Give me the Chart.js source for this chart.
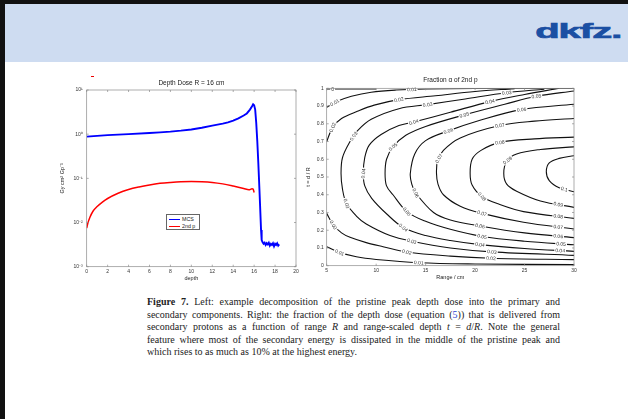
<!DOCTYPE html>
<html lang="en">
<head>
<meta charset="UTF-8" />
<title>Figure 7 - depth dose and fraction of 2nd p</title>
<script src="https://cdn.jsdelivr.net/npm/chart.js"></script>
<style>
  body { margin: 0; width: 628px; height: 419px; position: relative; overflow: hidden; background: #fff; }
  .bar-top { position: absolute; left: 0; top: 0; width: 628px; height: 4px; background: #111; }
  .bar-left { position: absolute; left: 0; top: 0; width: 5px; height: 419px; background: #111; }
  .header { position: absolute; left: 5px; top: 4px; width: 623px; height: 58px; background: #cedcf1; }
  .logo { position: absolute; right: 7px; top: 19px; font: bold 21px 'Liberation Sans', Arial, sans-serif;
          color: #1b4fa3; transform: scaleX(1.9); transform-origin: right center; letter-spacing: -0.5px;
          -webkit-text-stroke: 0.7px #1b4fa3; }
  .red-dash { position: absolute; left: 91px; top: 76px; width: 3px; height: 1px; background: #e00; }
  canvas { position: absolute; }
  #left { left: 59px; top: 72px; }
  #right { left: 305px; top: 70px; }
  .legend { position: absolute; left: 166px; top: 214px; width: 32px; height: 14px; border: 0.7px solid #666;
            background: #fff; font: 5.3px 'Liberation Sans', Arial, sans-serif; color: #222; }
  .legend div { height: 6px; line-height: 6px; margin-top: 1px; white-space: nowrap; }
  .legend span { display: inline-block; width: 11px; height: 1.4px; vertical-align: middle; margin: 0 2px 0 2px; }
  #caption { position: absolute; left: 147px; top: 296px; width: 413px; font-family: 'Liberation Serif', 'Times New Roman', serif;
             font-size: 10px; line-height: 12.6px; color: #222; }
  #caption .ln { white-space: nowrap; }
  #caption .ln span.t { display: inline-block; }
</style>
</head>
<body>
<div class="header"></div>
<div class="bar-top"></div>
<div class="bar-left"></div>
<div class="logo">dkfz.</div>
<div class="red-dash"></div>

<canvas id="left" width="243" height="216"></canvas>
<canvas id="right" width="285" height="218"></canvas>

<div class="legend">
  <div><span style="background:#0000ff"></span>MCS</div>
  <div><span style="background:#ff0000"></span>2nd p</div>
</div>

<div id="caption">
  <div class="ln fit"><span class="t"><b>Figure 7.</b> Left: example decomposition of the pristine peak depth dose into the primary and</span></div>
  <div class="ln fit"><span class="t">secondary components. Right: the fraction of the depth dose (equation (<span style="color:#2b3fd0">5</span>)) that is delivered from</span></div>
  <div class="ln fit"><span class="t">secondary protons as a function of range <i>R</i> and range-scaled depth <i>t</i> = <i>d</i>/<i>R</i>. Note the general</span></div>
  <div class="ln fit"><span class="t">feature where most of the secondary energy is dissipated in the middle of the pristine peak and</span></div>
  <div class="ln"><span class="t">which rises to as much as 10% at the highest energy.</span></div>
</div>

<script>
// ---- left panel: depth dose, R = 16 cm ----
const depthMCS = [0, 2, 4, 6, 7, 8, 9, 10, 11, 12, 13, 13.5, 14, 14.5, 15, 15.3, 15.6, 15.8, 15.9, 16.0, 16.1, 16.2, 16.3, 16.4,
                  16.5, 16.56, 16.66, 16.72, 16.8, 16.9, 17.0, 17.1, 17.2, 17.3, 17.4, 17.5, 17.6, 17.7, 17.8, 17.9, 18.0,
                  18.1, 18.2, 18.3, 18.4];
const doseMCS = [0.88, 0.95, 1.0, 1.06, 1.1, 1.14, 1.2, 1.28, 1.4, 1.56, 1.73, 1.85, 2.03, 2.28, 2.65, 2.95, 3.6, 4.3, 4.75, 4.5,
                 3.6, 1.8, 0.7, 0.22, 0.06, 0.027, 0.0068, 0.004, 0.0036, 0.0033, 0.0035, 0.0031, 0.0034, 0.0032, 0.0035,
                 0.0030, 0.0033, 0.0031, 0.0034, 0.0029, 0.0033, 0.0031, 0.0034, 0.0030, 0.0032];
const depth2nd = [0, 0.1, 0.3, 0.6, 1, 1.5, 2, 3, 4, 5, 6, 7, 8, 9, 10, 11, 12, 13, 14, 15, 15.5, 15.8, 15.9, 16.0];
const dose2nd = [0.0075, 0.0095, 0.013, 0.018, 0.023, 0.029, 0.035, 0.046, 0.056, 0.064, 0.071, 0.077, 0.081, 0.084, 0.085,
                 0.084, 0.081, 0.075, 0.067, 0.059, 0.055, 0.058, 0.057, 0.048];
const doseTicks = [1e-3, 1e-2, 1e-1, 1, 10];
const doseTickLabels = ['10\u207B\u00B3', '10\u207B\u00B2', '10\u207B\u00B9', '10\u2070', '10\u00B9'];

// ---- right panel: fraction alpha of 2nd p, contour lines as [R, t] ----
const a000 = [[5, 0.996], [10, 0.996]];
const a001Up = [[5, 0.893], [6, 0.925], [7.5, 0.955], [9.5, 0.978], [12, 0.99], [15, 0.996], [20, 0.999], [30, 0.999]];
const a001Lo = [[5, 0.107], [6.3, 0.075], [8, 0.05], [10, 0.035], [14.3, 0.017], [20, 0.01], [30, 0.006]];
const a002Up = [[5, 0.70], [5.6, 0.78], [6.5, 0.83], [8.1, 0.87], [9.8, 0.905], [12.3, 0.936], [16, 0.958], [20, 0.982], [24, 0.998]];
const a002Lo = [[5, 0.295], [5.67, 0.23], [6.5, 0.185], [7.36, 0.16], [9, 0.13], [10.7, 0.107], [13.1, 0.077], [17.5, 0.054],
                [21.6, 0.042], [30, 0.034]];
const a003 = [[27, 0.995], [23.2, 0.975], [19, 0.94], [15.2, 0.908], [12.3, 0.885], [9.5, 0.825], [8.1, 0.76], [7.36, 0.70],
              [6.6, 0.61], [6.45, 0.52], [6.6, 0.43], [7.0, 0.35], [8, 0.28], [9.0, 0.235], [11.4, 0.17], [13.6, 0.138],
              [17.5, 0.1], [21.7, 0.078], [30, 0.058]];
const a004 = [[28.5, 1.0], [25, 0.965], [21.5, 0.925], [17.5, 0.865], [13.8, 0.81], [12.3, 0.79], [10.5, 0.74], [9.3, 0.68],
              [8.85, 0.61], [8.7, 0.52], [8.85, 0.45], [9.55, 0.38], [11.1, 0.29], [12.75, 0.215], [15, 0.17], [17.5, 0.142],
              [20.5, 0.119], [25, 0.097], [30, 0.081]];
const a005 = [[30, 0.985], [26.2, 0.955], [23, 0.91], [18.9, 0.85], [15, 0.785], [13, 0.735], [11.7, 0.67], [11.05, 0.6],
              [10.9, 0.52], [11.05, 0.45], [11.7, 0.40], [13.1, 0.305], [15, 0.25], [17.5, 0.205], [20.7, 0.165], [25, 0.138],
              [30, 0.118]];
const a006 = [[30, 0.91], [24.7, 0.88], [20.5, 0.82], [17.3, 0.76], [15, 0.705], [13.9, 0.63], [13.45, 0.52], [13.6, 0.46],
              [14.0, 0.41], [15.8, 0.30], [17.5, 0.258], [20.5, 0.224], [25, 0.185], [30, 0.158]];
const a007 = [[30, 0.83], [26, 0.815], [22.5, 0.79], [18.5, 0.72], [16.8, 0.65], [16.2, 0.59], [16.1, 0.52], [16.25, 0.46],
              [16.8, 0.40], [18.5, 0.335], [20.7, 0.295], [24.9, 0.245], [30, 0.207]];
const a008 = [[30, 0.725], [26, 0.715], [22.5, 0.695], [20.6, 0.65], [19.7, 0.6], [19.5, 0.52], [19.7, 0.455], [20.7, 0.39],
              [22.5, 0.345], [24.9, 0.305], [30, 0.267]];
const a009 = [[30, 0.67], [26.6, 0.655], [24.2, 0.63], [23.2, 0.59], [22.9, 0.52], [23.2, 0.46], [24.2, 0.42], [26.6, 0.365],
              [30, 0.329]];
const a010 = [[30, 0.62], [28.5, 0.605], [27.5, 0.58], [27.2, 0.53], [27.5, 0.48], [28.5, 0.44], [30, 0.417]];
const contours = [a000, a001Up, a001Lo, a002Up, a002Lo, a003, a004, a005, a006, a007, a008, a009, a010];

// inline contour labels
const labelText = ['0', '0.01', '0.01', '0.02', '0.02', '0.03', '0.03', '0.03', '0.04', '0.04', '0.04', '0.05', '0.05', '0.05',
                   '0.06', '0.06', '0.07', '0.07', '0.08', '0.09',
                   '0.01', '0.01', '0.02', '0.02', '0.02', '0.03', '0.03', '0.03', '0.04', '0.04', '0.04', '0.05', '0.05',
                   '0.05', '0.06', '0.06', '0.06', '0.07', '0.07', '0.08', '0.08', '0.09', '0.1'];
const labelR = [5.6, 5.9, 13.6, 5.6, 12.3, 7.7, 15.2, 23.2, 8.7, 13.8, 21.5, 11.7, 18.9, 26.2, 17.3, 24.7, 16.5, 22.5, 22.5, 23.2,
                6.3, 14.3, 5.67, 13.1, 21.6, 7.0, 13.6, 21.7, 12.75, 20.5, 28.6, 13.1, 20.7, 28.7, 14.0, 20.5, 28.4, 20.7,
                28.4, 20.7, 28.4, 28.4, 29.0];
const labelT = [0.996, 0.91, 0.994, 0.78, 0.936, 0.73, 0.908, 0.975, 0.52, 0.81, 0.925, 0.67, 0.85, 0.955, 0.76, 0.88, 0.6,
                0.79, 0.695, 0.6,
                0.075, 0.017, 0.23, 0.077, 0.042, 0.35, 0.138, 0.078, 0.215, 0.119, 0.086, 0.305, 0.165, 0.123, 0.41, 0.224,
                0.164, 0.295, 0.216, 0.39, 0.275, 0.34, 0.426];
const rangeTicks = [5, 10, 15, 20, 25, 30];
const tTicks = [0, 0.1, 0.2, 0.3, 0.4, 0.5, 0.6, 0.7, 0.8, 0.9, 1];

const FONT = "'Liberation Sans', Arial, sans-serif";
const tickFont = { family: FONT, size: 5 };
const txt = '#333';
const noGrid = { display: false, drawTicks: false, tickLength: 0 };

// box round the plot with small inward ticks, matlab style, plus the title over the plot area
const boxPlugin = {
  id: 'box',
  afterDraw(chart, args, opts) {
    const { ctx, chartArea: a, scales } = chart;
    ctx.save();
    ctx.strokeStyle = '#8a8a8a';
    ctx.lineWidth = 0.7;
    ctx.strokeRect(a.left, a.top, a.right - a.left, a.bottom - a.top);
    ctx.beginPath();
    scales.x.ticks.forEach(t => {
      const px = scales.x.getPixelForValue(t.value);
      ctx.moveTo(px, a.bottom); ctx.lineTo(px, a.bottom - 2);
      ctx.moveTo(px, a.top); ctx.lineTo(px, a.top + 2);
    });
    scales.y.ticks.forEach(t => {
      const py = scales.y.getPixelForValue(t.value);
      ctx.moveTo(a.left, py); ctx.lineTo(a.left + 2, py);
      ctx.moveTo(a.right, py); ctx.lineTo(a.right - 2, py);
    });
    ctx.stroke();
    ctx.fillStyle = '#222';
    ctx.font = '6.5px ' + FONT;
    ctx.textAlign = 'center';
    ctx.textBaseline = 'middle';
    ctx.fillText(opts.title, (a.left + a.right) / 2, a.top - opts.lift);
    ctx.restore();
  }
};

// left chart
new Chart(document.getElementById('left'), {
  type: 'line',
  data: {
    datasets: [
      { label: 'MCS', data: depthMCS.map((x, i) => ({ x, y: doseMCS[i] })), borderColor: '#0000ff', borderWidth: 1.9,
        pointRadius: 0, tension: 0 },
      { label: '2nd p', data: depth2nd.map((x, i) => ({ x, y: dose2nd[i] })), borderColor: '#ff0000', borderWidth: 1.5,
        pointRadius: 0, cubicInterpolationMode: 'monotone' }
    ]
  },
  options: {
    responsive: false, animation: false, devicePixelRatio: 1,
    layout: { padding: { left: 0, right: 6, top: 18, bottom: 6.3 } },
    plugins: {
      legend: { display: false }, tooltip: { enabled: false }, title: { display: false },
      box: { title: 'Depth Dose R = 16 cm', lift: 7 }
    },
    scales: {
      x: { type: 'linear', min: 0, max: 20,
           ticks: { stepSize: 2, font: tickFont, color: txt, padding: 2, maxRotation: 0 },
           grid: noGrid, border: { display: false },
           title: { display: true, text: 'depth', color: '#222', font: { family: FONT, size: 5.5 }, padding: 0 },
           afterFit(s) { s.height = 15; } },
      y: { type: 'logarithmic', min: 1e-3, max: 10,
           afterBuildTicks(s) { s.ticks = doseTicks.map(v => ({ value: v })); },
           ticks: { font: tickFont, color: txt, padding: 4,
                    callback: v => doseTickLabels[doseTicks.indexOf(v)] },
           grid: noGrid, border: { display: false },
           title: { display: true, text: 'Gy cm\u00B2 Gp\u207B\u00B9', color: '#222', font: { family: FONT, size: 5.5 }, padding: 0 },
           afterFit(s) { s.width = 27.7; } }
    }
  },
  plugins: [boxPlugin]
});

// contour label plugin: white gap + rotated text along the nearest line
const labelPlugin = {
  id: 'clabels',
  afterDatasetsDraw(chart) {
    const { ctx, scales: { x, y } } = chart;
    ctx.save();
    ctx.font = '5px ' + FONT;
    ctx.textAlign = 'center';
    ctx.textBaseline = 'middle';
    labelText.forEach((s, i) => {
      let px = x.getPixelForValue(labelR[i]), py = y.getPixelForValue(labelT[i]);
      let best = Infinity, ang = 0, sx = px, sy = py;
      chart.data.datasets.forEach(ds => {
        for (let k = 0; k < ds.data.length - 1; k++) {
          const ax = x.getPixelForValue(ds.data[k].x), ay = y.getPixelForValue(ds.data[k].y);
          const bx = x.getPixelForValue(ds.data[k + 1].x), by = y.getPixelForValue(ds.data[k + 1].y);
          const dx = bx - ax, dy = by - ay, L = dx * dx + dy * dy || 1;
          const u = Math.max(0, Math.min(1, ((px - ax) * dx + (py - ay) * dy) / L));
          const qx = ax + u * dx, qy = ay + u * dy;
          const d = (qx - px) ** 2 + (qy - py) ** 2;
          if (d < best) { best = d; ang = Math.atan2(dy, dx); sx = qx; sy = qy; }
        }
      });
      if (ang > Math.PI / 2) ang -= Math.PI;
      if (ang < -Math.PI / 2) ang += Math.PI;
      const w = ctx.measureText(s).width + 2;
      ctx.save();
      ctx.translate(sx, sy);
      ctx.rotate(ang);
      ctx.fillStyle = '#fff';
      ctx.fillRect(-w / 2, -2.4, w, 4.8);
      ctx.fillStyle = '#333';
      ctx.fillText(s, 0, 0.3);
      ctx.restore();
    });
    ctx.restore();
  }
};

// right chart
new Chart(document.getElementById('right'), {
  type: 'scatter',
  data: {
    datasets: contours.map(c => ({
      data: c.map(p => ({ x: p[0], y: p[1] })), showLine: true, borderColor: '#111', borderWidth: 1.1,
      pointRadius: 0, tension: 0.35
    }))
  },
  options: {
    responsive: false, animation: false, devicePixelRatio: 1,
    layout: { padding: { left: 0, right: 16, top: 18.3, bottom: 6.8 } },
    plugins: {
      legend: { display: false }, tooltip: { enabled: false }, title: { display: false },
      box: { title: 'Fraction \u03B1 of 2nd p', lift: 8 }
    },
    scales: {
      x: { type: 'linear', min: 5, max: 30,
           afterBuildTicks(s) { s.ticks = rangeTicks.map(v => ({ value: v })); },
           ticks: { font: tickFont, color: txt, padding: 2, maxRotation: 0 },
           grid: noGrid, border: { display: false },
           title: { display: true, text: 'Range / cm', color: '#222', font: { family: FONT, size: 5.5 }, padding: 0 },
           afterFit(s) { s.height = 15.5; } },
      y: { type: 'linear', min: 0, max: 1,
           afterBuildTicks(s) { s.ticks = tTicks.map(v => ({ value: v })); },
           ticks: { font: tickFont, color: txt, padding: 3, callback: v => String(v) },
           grid: noGrid, border: { display: false },
           title: { display: true, text: 't = d / R', color: '#222', font: { family: FONT, size: 5.5 }, padding: 0 },
           afterFit(s) { s.width = 21.7; } }
    }
  },
  plugins: [labelPlugin, boxPlugin]
});

// justify the caption lines to the column width
document.querySelectorAll('#caption .fit').forEach(line => {
  const span = line.querySelector('.t');
  const spaces = (span.textContent.match(/ /g) || []).length;
  const extra = 413 - span.getBoundingClientRect().width;
  span.style.wordSpacing = (extra / spaces) + 'px';
});
</script>
</body>
</html>
